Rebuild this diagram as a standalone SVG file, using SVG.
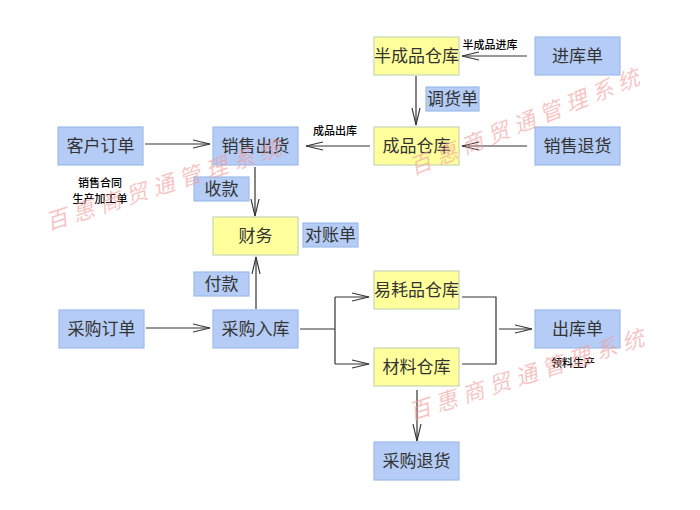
<svg xmlns="http://www.w3.org/2000/svg" width="700" height="510" viewBox="0 0 700 510">
<defs>
<style>
.bl{fill:#b5cdf6;stroke:#9dbbe9;stroke-width:1.2}
.ye{fill:#ffff9c;stroke:#c6d6b4;stroke-width:1.2}
.bt{font-family:"Noto Sans CJK SC","Liberation Serif",serif;font-size:17px;fill:#333;text-anchor:middle}
.sm{font-family:"Noto Sans CJK SC","Liberation Sans",sans-serif;font-size:11px;font-weight:500;fill:#000;text-anchor:middle}
.ln{fill:none;stroke:#333;stroke-width:1.2}
.ar{marker-end:url(#ch)}
.wm{font-family:"Noto Sans CJK SC",serif;font-size:22px;font-style:italic;fill:#f39c9c;fill-opacity:0.6;text-anchor:middle;letter-spacing:6px}
</style>
<marker id="ch" viewBox="0 0 18 10" refX="17" refY="5" markerWidth="18" markerHeight="10" markerUnits="userSpaceOnUse" orient="auto">
<path d="M0,1 L17,5 L0,9" fill="none" stroke="#333" stroke-width="1.1"/>
</marker>
</defs>
<rect width="700" height="510" fill="#fff"/>

<g id="connectors">
<path class="ln ar" d="M527,56 H462"/>
<path class="ln ar" d="M416,76 V125"/>
<path class="ln ar" d="M527,146 H462"/>
<path class="ln ar" d="M370,146 H306"/>
<path class="ln ar" d="M145,144 H210"/>
<path class="ln ar" d="M255,167 V216"/>
<path class="ln ar" d="M256,309 V257"/>
<path class="ln ar" d="M146,328 H210"/>
<path class="ln" d="M300,329 H335 M335,297 V364"/>
<path class="ln ar" d="M335,297 H369"/>
<path class="ln ar" d="M335,364 H369"/>
<path class="ln" d="M462,297 H496 V364 H462"/>
<path class="ln ar" d="M499,329 H532"/>
<path class="ln ar" d="M417,390 V441"/>
<text class="sm" x="490" y="49">半成品进库</text>
<text class="sm" x="335" y="135">成品出库</text>
</g>

<g id="n_bancheng"><rect class="ye" x="374" y="37" width="85" height="38"/><text class="bt" x="416.5" y="62">半成品仓库</text></g>
<g id="n_jinku"><rect class="bl" x="535" y="37" width="85" height="38"/><text class="bt" x="577.5" y="62">进库单</text></g>
<g id="n_diaohuo"><rect class="bl" x="426" y="87" width="53" height="24"/><text class="bt" x="452.5" y="105">调货单</text></g>
<g id="n_chengpin"><rect class="ye" x="374" y="127" width="85" height="38"/><text class="bt" x="416.5" y="152">成品仓库</text></g>
<g id="n_tuihuo"><rect class="bl" x="535" y="127" width="85" height="38"/><text class="bt" x="577.5" y="152">销售退货</text></g>
<g id="n_kehu"><rect class="bl" x="58" y="127" width="85" height="38"/><text class="bt" x="100.5" y="152">客户订单</text></g>
<g id="n_xiaoshou"><rect class="bl" x="213" y="127" width="85" height="38"/><text class="bt" x="255.5" y="152">销售出货</text></g>
<g id="n_hetong"><text class="sm" x="100" y="187">销售合同</text><text class="sm" x="100" y="203">生产加工单</text></g>
<g id="n_shoukuan"><rect class="bl" x="194" y="177" width="55" height="24"/><text class="bt" x="221.5" y="195">收款</text></g>
<g id="n_caiwu"><rect class="ye" x="213" y="217" width="85" height="38"/><text class="bt" x="255.5" y="242">财务</text></g>
<g id="n_duizhang"><rect class="bl" x="303" y="223" width="55" height="24"/><text class="bt" x="330.5" y="241">对账单</text></g>
<g id="n_fukuan"><rect class="bl" x="194" y="272" width="55" height="24"/><text class="bt" x="221.5" y="290">付款</text></g>
<g id="n_caigoudd"><rect class="bl" x="59" y="310" width="85" height="38"/><text class="bt" x="101.5" y="335">采购订单</text></g>
<g id="n_caigourk"><rect class="bl" x="213" y="310" width="85" height="38"/><text class="bt" x="255.5" y="335">采购入库</text></g>
<g id="n_yihao"><rect class="ye" x="374" y="271" width="85" height="38"/><text class="bt" x="416.5" y="296">易耗品仓库</text></g>
<g id="n_cailiao"><rect class="ye" x="374" y="348" width="85" height="38"/><text class="bt" x="416.5" y="373">材料仓库</text></g>
<g id="n_chuku"><rect class="bl" x="535" y="310" width="85" height="38"/><text class="bt" x="577.5" y="335">出库单</text><text class="sm" x="573" y="367">领料生产</text></g>
<g id="n_caigoutui"><rect class="bl" x="374" y="442" width="85" height="38"/><text class="bt" x="416.5" y="467">采购退货</text></g>

<g id="watermarks">
<text class="wm" transform="translate(166,184) rotate(-18)" y="8">百惠商贸通管理系统</text>
<text class="wm" transform="translate(527,121) rotate(-22)" y="8">百惠商贸通管理系统</text>
<text class="wm" transform="translate(529,374) rotate(-18)" y="8">百惠商贸通管理系统</text>
</g>
</svg>
